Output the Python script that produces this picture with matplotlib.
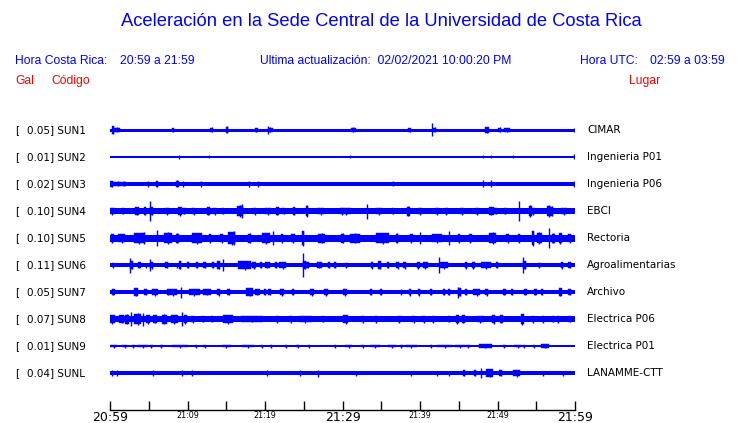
import matplotlib
matplotlib.use("Agg")
import matplotlib.pyplot as plt

# station info, top to bottom
stations = ["SUN1", "SUN2", "SUN3", "SUN4", "SUN5", "SUN6", "SUN7", "SUN8", "SUN9", "SUNL"]
places = ["CIMAR", "Ingenieria P01", "Ingenieria P06", "EBCI", "Rectoria",
          "Agroalimentarias", "Archivo", "Electrica P06", "Electrica P01", "LANAMME-CTT"]
gal = [0.05, 0.01, 0.02, 0.10, 0.10, 0.11, 0.05, 0.07, 0.01, 0.04]

# background noise half-amplitude of each trace (drawing units)
base_amp = [1.5, 0.7, 2.0, 2.6, 3.5, 1.9, 2.2, 2.8, 0.7, 1.9]

# bursts / spikes: (minute after 20:59, half-amplitude, duration in minutes)
sun1 = [(0.4, 4, 0.3), (0.9, 2.5, 0.8), (8.1, 2, 0.3), (13.1, 2.5, 0.4), (15.1, 3.5, 0.3),
        (18.9, 2, 0.3), (20.4, 4, 0.2), (20.7, 2.5, 0.6), (31.4, 2.5, 0.6), (38.7, 2, 0.4),
        (41.5, 6.5, 0.2), (41.9, 2.5, 0.4), (48.6, 3, 0.5), (50.3, 2.5, 0.4), (51.2, 2, 0.8),
        (59.9, 2, 0.15)]
sun2 = [(8.9, 2, 0.15), (12.8, 1.5, 0.15), (31.0, 1.5, 0.15), (48.1, 1.5, 0.15),
        (49.2, 1.5, 0.15), (52.0, 1.5, 0.15), (59.9, 2.5, 0.15)]
sun3 = [(0.2, 3, 0.4), (1.0, 2.5, 2.0), (1.8, 2.5, 0.2), (4.9, 3, 0.2), (6.1, 3, 0.3),
        (8.7, 3.5, 0.4), (9.4, 3, 0.2), (11.7, 3, 0.2), (17.9, 3, 0.2), (19.1, 3, 0.2),
        (36.5, 2.5, 0.2), (48.1, 3.5, 0.2), (49.1, 3.5, 0.2), (59.9, 3, 0.15)]
sun4 = [(0.3, 3.5, 0.6), (1.7, 3, 0.3), (3.5, 4, 0.6), (4.5, 4, 0.3), (5.2, 10, 0.2),
        (5.4, 4, 0.4), (7.3, 3.5, 0.5), (9.0, 4.5, 0.5), (9.6, 3, 0.3), (10.8, 3.5, 0.4),
        (12.7, 4, 0.3), (13.5, 3.5, 0.3), (14.6, 3, 0.3), (16.8, 6, 0.8), (17.0, 7, 0.2),
        (18.7, 3.5, 0.4), (20.4, 3.5, 0.7), (21.6, 4, 0.3), (22.4, 3, 0.3), (23.7, 4, 0.3),
        (25.4, 6, 0.3), (27.2, 3.5, 0.9), (29.9, 3.5, 0.4), (30.5, 3.5, 1.2), (33.1, 7.5, 0.2),
        (34.7, 3.5, 0.7), (36.5, 3, 0.3), (38.5, 5, 0.4), (40.0, 3.5, 0.4), (42.2, 3.5, 0.5),
        (43.4, 3.5, 0.3), (45.4, 3.5, 0.5), (47.3, 3.5, 0.5), (49.2, 4, 0.6), (49.8, 3, 0.4),
        (51.0, 3, 0.4), (52.8, 10, 0.2), (54.2, 6, 0.4), (54.6, 3.5, 0.5), (56.6, 6, 0.3),
        (57.0, 5, 0.4), (58.6, 3.5, 0.7)]
sun5 = [(0.3, 4.5, 0.4), (1.5, 4.5, 0.9), (3.7, 5.5, 1.1), (4.4, 6, 0.3), (6.0, 8, 0.2),
        (7.5, 6, 1.1), (8.7, 5, 0.3), (11.2, 5.5, 1.3), (12.9, 4.5, 0.3), (14.4, 4.5, 0.3),
        (15.7, 6.5, 0.9), (16.0, 7, 0.2), (18.0, 5, 0.5), (20.1, 5.5, 1.1), (21.0, 7, 0.2),
        (22.2, 4.5, 0.3), (23.6, 4.5, 0.5), (24.9, 7.5, 0.3), (27.3, 5, 0.9), (30.0, 5, 0.3),
        (31.6, 5, 1.3), (35.2, 5.5, 1.7), (37.0, 5, 0.3), (38.9, 4.5, 0.3), (40.0, 6, 0.2),
        (42.2, 4.5, 1.3), (43.7, 7, 0.2), (45.0, 4.5, 0.3), (46.5, 4.5, 0.3), (49.4, 6, 0.9),
        (51.3, 4.5, 0.3), (52.8, 4.5, 0.3), (54.6, 7.5, 0.3), (55.4, 6, 0.7), (56.6, 10, 0.2),
        (57.2, 5, 0.4), (58.1, 5.5, 0.4), (59.3, 4.5, 0.4)]
sun6 = [(0.4, 2.5, 0.3), (2.6, 7.5, 0.2), (2.8, 4, 0.4), (3.8, 3, 0.4), (4.6, 2.5, 0.2),
        (5.1, 6, 0.2), (5.4, 3.5, 0.4), (7.3, 3, 0.3), (8.6, 2.5, 0.2), (9.0, 4, 0.3),
        (10.1, 3, 0.3), (11.2, 3, 0.3), (12.2, 3, 0.3), (13.3, 3, 0.3), (14.0, 4, 0.3),
        (14.6, 6, 0.2), (17.4, 4.5, 1.7), (18.6, 3.5, 0.6), (19.5, 3, 0.3), (20.3, 3, 0.6),
        (21.4, 3, 0.3), (22.3, 3.5, 0.9), (24.9, 12, 0.2), (25.1, 4, 0.4), (25.5, 3, 0.3),
        (27.0, 3, 0.6), (28.3, 3, 0.3), (29.0, 3, 0.3), (30.5, 2.5, 0.3), (33.8, 3.5, 0.3),
        (34.8, 4, 0.4), (35.9, 3, 0.3), (37.1, 3.5, 0.5), (38.0, 3.5, 0.3), (39.8, 3.5, 0.3),
        (40.7, 3.5, 0.6), (42.4, 8, 0.2), (43.1, 3.5, 1.1), (45.9, 3.5, 0.3), (46.9, 3.5, 0.3),
        (48.5, 3.5, 1.3), (49.9, 3, 0.3), (53.3, 8, 0.2), (53.5, 4, 0.4), (55.4, 2.5, 0.3),
        (58.3, 3.5, 0.3), (59.3, 3, 0.3)]
sun7 = [(0.4, 3, 0.4), (3.3, 4, 0.5), (4.6, 3, 0.3), (5.8, 3.5, 0.7), (7.5, 3, 0.3),
        (8.1, 3.5, 1.1), (9.2, 5.5, 0.2), (10.9, 3.5, 1.3), (12.5, 3, 1.1), (14.0, 3.5, 0.3),
        (15.3, 3, 0.3), (18.0, 4, 0.9), (19.0, 3, 0.6), (20.0, 3, 0.3), (20.6, 3, 0.3),
        (22.2, 3.5, 0.5), (23.6, 3, 0.3), (26.1, 3.5, 0.5), (27.9, 3.5, 0.5), (30.3, 3.5, 0.5),
        (33.7, 3, 0.3), (35.0, 3, 0.3), (37.5, 3, 0.2), (38.7, 3.5, 0.3), (39.9, 3.5, 0.3),
        (41.4, 3, 0.3), (43.1, 3, 0.3), (43.7, 3, 0.3), (44.9, 5.5, 0.2), (45.1, 4, 0.4),
        (45.9, 3, 0.3), (47.3, 3.5, 0.9), (48.6, 3.5, 0.3), (50.9, 3, 0.3), (51.9, 3, 0.3),
        (53.6, 3, 0.3), (54.9, 3, 0.3), (55.7, 3, 0.3), (58.1, 4, 0.4), (59.3, 3, 0.3)]
sun8 = [(0.3, 4.5, 0.6), (1.5, 4, 0.6), (2.2, 5, 0.6), (2.7, 7, 0.2), (3.6, 6, 0.9),
        (4.3, 6.5, 0.2), (4.9, 4.5, 0.4), (5.8, 4, 0.6), (7.0, 5, 0.6), (8.3, 4.5, 0.9),
        (9.3, 7, 0.2), (9.7, 4.5, 0.4), (10.7, 3.5, 0.4), (12.0, 3, 0.3), (13.2, 3, 0.3),
        (15.2, 4.5, 1.3), (18.3, 3, 2.8), (21.6, 3.5, 0.3), (23.3, 3.5, 0.3), (25.2, 3.5, 1.7),
        (27.5, 3, 0.3), (30.4, 4.5, 0.6), (32.6, 3.5, 0.3), (34.3, 3.5, 0.3), (37.3, 3.5, 0.4),
        (39.2, 3.5, 0.4), (40.5, 3.5, 0.4), (41.7, 3.5, 0.4), (43.7, 3, 0.3), (44.8, 4.5, 0.4),
        (45.6, 4, 0.3), (47.8, 3.5, 0.9), (49.5, 4.5, 0.3), (50.5, 4, 0.3), (53.2, 5.5, 0.4),
        (54.6, 3.5, 0.3), (55.9, 3.5, 0.3), (57.2, 3, 0.3), (57.8, 3.5, 0.3), (59.3, 3, 0.3)]
sun9 = [(0.5, 1.5, 0.9), (1.9, 1.5, 0.6), (3.0, 1.5, 0.4), (4.2, 1.5, 1.5), (5.3, 1.5, 0.4),
        (6.6, 1.5, 0.4), (9.0, 1.5, 2.1), (11.1, 1.5, 0.3), (12.2, 1.5, 0.3), (15.0, 1.5, 1.1),
        (17.8, 1.5, 1.5), (19.6, 1.5, 0.3), (20.8, 1.5, 0.3), (22.7, 1.5, 0.3), (24.2, 1.5, 0.3),
        (25.7, 1.5, 0.3), (29.0, 1.5, 0.3), (30.8, 1.5, 0.9), (32.6, 1.5, 0.3), (34.2, 1.5, 1.3),
        (36.4, 1.5, 1.1), (37.6, 1.5, 0.3), (38.9, 1.5, 1.5), (41.4, 1.5, 0.3), (43.2, 1.5, 1.9),
        (45.2, 1.5, 1.3), (46.2, 1.5, 0.6), (48.4, 2, 1.7), (50.9, 1.5, 0.3), (52.6, 1.5, 0.9),
        (53.4, 1.5, 0.3), (54.7, 1.5, 0.3), (56.1, 1.8, 1.1)]
sunl = [(0.2, 3, 0.2), (0.9, 3, 0.2), (5.5, 3, 0.2), (9.3, 3, 0.2), (10.6, 3, 0.2),
        (20.2, 3, 0.2), (24.5, 3, 0.2), (26.9, 3.5, 0.2), (31.7, 2.5, 0.2), (38.8, 2.5, 0.2),
        (42.2, 2.5, 0.2), (43.7, 2.5, 0.2), (45.7, 3, 0.3), (47.1, 3, 0.3), (47.9, 5, 0.2),
        (49.0, 4, 0.9), (50.4, 3, 0.3), (52.5, 3.5, 0.9), (55.9, 2.5, 0.2), (58.4, 2.5, 0.2)]
events = [sun1, sun2, sun3, sun4, sun5, sun6, sun7, sun8, sun9, sunl]

tick_minutes = list(range(0, 61, 5))
tick_labels = {0: "20:59", 10: "21:09", 20: "21:19", 30: "21:29",
               40: "21:39", 50: "21:49", 60: "21:59"}

W, H = 740, 423
BLUE = "#0000ff"
RED = "#ff0000"


def fx(px):
    return px / W


def fy(py):
    return 1 - py / H


fig = plt.figure(figsize=(W / 100, H / 100), dpi=100)
# axes spans the trace area; one y unit = one pixel, y grows downward
ax = fig.add_axes([fx(110), fy(410), (575 - 110) / W, (410 - 112) / H])
ax.set_xlim(0, 60)
ax.set_ylim(410, 112)

row0, row_step = 130, 27
for i in range(len(stations)):
    y0 = row0 + row_step * i
    b = base_amp[i]
    ax.fill_between([0, 60], y0 - b, y0 + b, color=BLUE, linewidth=0)
    for m, a, d in events[i]:
        if d > 0.2:
            # burst block, peak drawn as spike below
            ax.bar(m, 1.8 * a, width=d, bottom=y0 - 0.9 * a,
                   color=BLUE, edgecolor=BLUE, linewidth=0.3)
        ax.vlines(m, y0 - a, y0 + a, color=BLUE, linewidth=1.0)

    fig.text(fx(15), fy(y0), "[", fontsize=7.5, ha="left", va="center")
    fig.text(fx(27), fy(y0), "%.2f] %s" % (gal[i], stations[i]),
             fontsize=7.5, ha="left", va="center")
    fig.text(fx(587), fy(y0), places[i], fontsize=7.5, ha="left", va="center")

for s in ["left", "right", "top"]:
    ax.spines[s].set_visible(False)
ax.spines["bottom"].set_linewidth(1.0)
ax.set_yticks([])
ax.set_xticks(tick_minutes)
ax.set_xticklabels([tick_labels.get(m, "") for m in tick_minutes])
ax.tick_params(axis="x", direction="in", length=6.2, width=1.0, pad=0.8)
for m, lab in zip(tick_minutes, ax.get_xticklabels()):
    lab.set_fontsize(9 if m in (0, 30, 60) else 5.8)

# header texts
fig.text(fx(381), fy(22), "Aceleración en la Sede Central de la Universidad de Costa Rica",
         fontsize=13.2, color=BLUE, family="Liberation Sans", ha="center", va="center")
hdr = dict(fontsize=8.7, color=BLUE, family="Liberation Sans", va="center")
fig.text(fx(15), fy(61), "Hora Costa Rica:", ha="left", **hdr)
fig.text(fx(120), fy(61), "20:59 a 21:59", ha="left", **hdr)
fig.text(fx(260), fy(61), "Ultima actualización:  02/02/2021 10:00:20 PM", ha="left", **hdr)
fig.text(fx(580), fy(61), "Hora UTC:", ha="left", **hdr)
fig.text(fx(725), fy(61), "02:59 a 03:59", ha="right", **hdr)
red = dict(fontsize=8.7, color=RED, family="Liberation Sans", va="center")
fig.text(fx(15), fy(81), "Gal", ha="left", **red)
fig.text(fx(51), fy(81), "Código", ha="left", **red)
fig.text(fx(629), fy(81), "Lugar", ha="left", **red)

fig.savefig("out.png", dpi=100)
